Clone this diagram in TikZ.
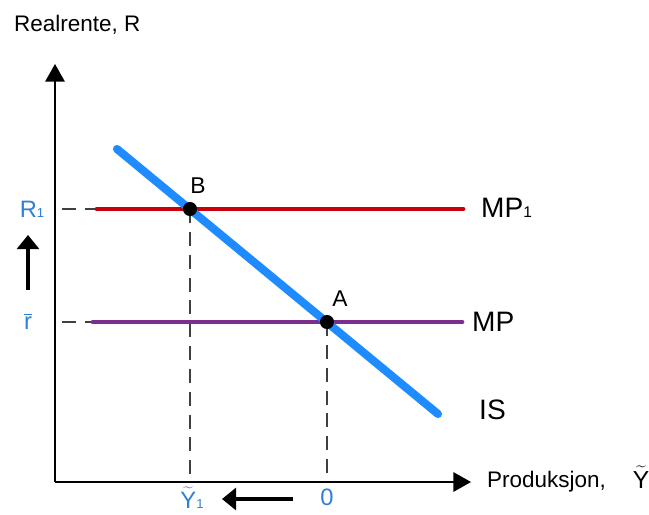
\documentclass[tikz,border=0pt]{standalone}
\usepackage{fontspec}
\setmainfont{Liberation Sans}
\usetikzlibrary{arrows.meta, positioning}
\definecolor{isblue}{HTML}{1E8CFF}
\definecolor{mpred}{HTML}{C8000A}
\definecolor{mppurple}{HTML}{7A2E8E}
\definecolor{valblue}{HTML}{2F7FD6}
\newcommand{\lowidx}[1]{\scalebox{0.55}{#1}}
\newcommand{\tildeY}{$\widetilde{\mbox{Y}}$}
\newcommand{\barr}{$\overline{\mbox{r}}$}

\begin{document}
\begin{tikzpicture}[x=0.02cm, y=-0.02cm,
    axis/.style={-{Triangle[width=11pt, length=10pt]}, line width=1.1pt},
    guide/.style={dash pattern=on 8pt off 5pt, line width=0.6pt, color=black!75},
    curve/.style={line width=#1, line cap=round},
    shiftarrow/.style={-{Triangle[width=12.5pt, length=8pt]}, line width=1.8pt},
    dot/.style={circle, fill=black, inner sep=0pt, minimum size=8pt},
    axlabel/.style={font=\fontsize{12.8}{15}\selectfont, anchor=west},
    curvelabel/.style={font=\fontsize{16}{19}\selectfont, anchor=west},
    ptlabel/.style={font=\fontsize{13}{15}\selectfont},
    vallabel/.style={font=\fontsize{13.5}{16}\selectfont, text=valblue}
]
\useasboundingbox (0,0) rectangle (649,514);

\coordinate (origin) at (55,482);
\coordinate (ytip) at (55,64);
\coordinate (xtip) at (471,482);
\coordinate (pB) at (190,209);
\coordinate (pA) at (327,322);
\coordinate (r1tick) at (62,209);
\coordinate (rtick) at (62,322);
\coordinate (mp1start) at (97,209);
\coordinate (mp1end) at (463,209);
\coordinate (mpstart) at (93,322);
\coordinate (mpend) at (462,322);
\coordinate (isstart) at (117,149);
\coordinate (isend) at (438,414);
\coordinate (y1foot) at (190,476);
\coordinate (y0foot) at (327,476);
\coordinate (upfrom) at (28,290);
\coordinate (upto) at (28,235);
\coordinate (leftfrom) at (293,499);
\coordinate (leftto) at (222,499);

\draw[guide] (r1tick) -- (pB);
\draw[guide] (rtick) -- (pA);
\draw[guide] (pB) -- (y1foot);
\draw[guide] (pA) -- (y0foot);

\draw[curve=2.8pt, mpred] (mp1start) -- (mp1end);
\draw[curve=2.8pt, mppurple] (mpstart) -- (mpend);
\draw[curve=4.6pt, isblue] (isstart) -- (isend);

\node[dot] (B) at (pB) {};
\node[dot] (A) at (pA) {};

\draw[axis] (origin) -- (ytip);
\draw[axis] (origin) -- (xtip);

\draw[shiftarrow] (upfrom) -- (upto);
\draw[shiftarrow] (leftfrom) -- (leftto);

\node[axlabel] (ylabel) at (8,25) {Realrente, R};
\node[axlabel] (xlabel) at (481,482) {Produksjon,};
\node[font=\fontsize{14}{16}\selectfont] (xsym) at (641,477) {\tildeY};

\node[ptlabel] (Blabel) at (198,186) {B};
\node[ptlabel] (Alabel) at (340,299) {A};

\node[curvelabel] (mp1label) at (475,208) {MP\lowidx{1}};
\node[curvelabel] (mplabel) at (466,322) {MP};
\node[curvelabel] (islabel) at (473,410) {IS};

\node[vallabel] (r1label) at (32,209) {R\lowidx{1}};
\node[vallabel] (rlabel) at (28,321) {\barr};
\node[vallabel] (y1label) at (192,498) {\tildeY\lowidx{1}};
\node[vallabel] (y0label) at (327,497) {0};
\end{tikzpicture}
\end{document}
